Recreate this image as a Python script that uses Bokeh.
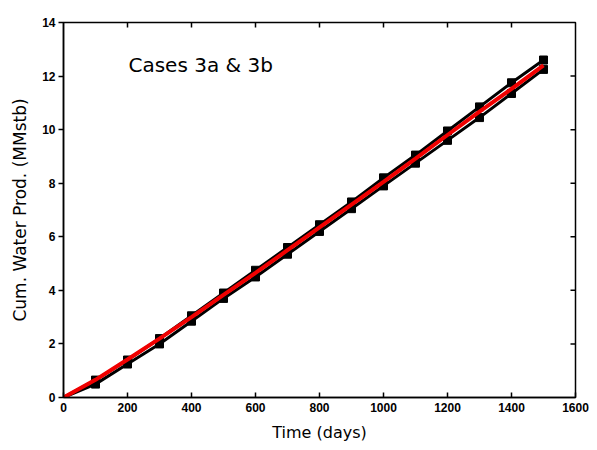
import math
from bokeh.plotting import figure
from bokeh.models import Range1d, FixedTicker, Label
from bokeh.embed import file_html
from bokeh.resources import INLINE

time_days = [0, 100, 200, 300, 400, 500, 600, 700, 800, 900, 1000, 1100, 1200, 1300, 1400, 1500]
case_upper = [0, 0.65, 1.40, 2.20, 3.05, 3.90, 4.75, 5.60, 6.45, 7.30, 8.20, 9.05, 9.95, 10.85, 11.75, 12.60]
case_lower = [0, 0.50, 1.25, 2.00, 2.85, 3.70, 4.50, 5.35, 6.20, 7.05, 7.90, 8.75, 9.60, 10.45, 11.35, 12.25]
case_red = [0, 0.66, 1.42, 2.20, 3.00, 3.83, 4.65, 5.50, 6.35, 7.20, 8.05, 8.92, 9.80, 10.67, 11.52, 12.40]

x_ticks = [0, 200, 400, 600, 800, 1000, 1200, 1400, 1600]
y_ticks = [0, 2, 4, 6, 8, 10, 12, 14]

p = figure(width=597, height=450, output_backend="svg", toolbar_location=None,
           x_range=Range1d(0, 1600), y_range=Range1d(0, 14),
           min_border_left=63, min_border_right=22, min_border_top=22, min_border_bottom=53)
p.grid.visible = False
p.outline_line_color = "black"
p.outline_line_width = 1.5
p.background_fill_color = "white"
p.border_fill_color = "white"

tick_font = "Liberation Sans"
label_font = "DejaVu Sans"
p.xaxis.ticker = FixedTicker(ticks=x_ticks)
p.yaxis.ticker = FixedTicker(ticks=y_ticks)
for ax in p.xaxis + p.yaxis:
    ax.minor_tick_line_color = None
    ax.axis_line_width = 1.5
    ax.axis_line_color = "black"
    ax.major_tick_line_width = 1.5
    ax.major_tick_line_color = "black"
    ax.major_label_text_font = tick_font
    ax.major_label_text_font_size = "12px"
    ax.major_label_text_font_style = "bold"
    ax.major_label_text_color = "black"
    ax.axis_label_text_font = label_font
    ax.axis_label_text_font_style = "normal"
    ax.axis_label_text_color = "black"

p.xaxis.axis_label = "Time (days)"
p.yaxis.axis_label = "Cum. Water Prod. (MMstb)"
p.xaxis.axis_label_text_font_size = "16px"
p.yaxis.axis_label_text_font_size = "17px"
p.xaxis.major_tick_in = 5
p.xaxis.major_tick_out = 0
p.yaxis.major_tick_in = 0
p.yaxis.major_tick_out = 5
p.xaxis.major_label_standoff = 5
p.yaxis.major_label_standoff = 3
p.xaxis.axis_label_standoff = 8
p.yaxis.axis_label_standoff = 9

# inward ticks on the top and right frame edges
p.ray(x=x_ticks[1:-1], y=[14] * (len(x_ticks) - 2), length=5, length_units="screen",
      angle=-math.pi / 2, line_color="black", line_width=1.5)
p.ray(x=[1600] * (len(y_ticks) - 2), y=y_ticks[1:-1], length=5, length_units="screen",
      angle=math.pi, line_color="black", line_width=1.5)

p.line(time_days, case_upper, line_color="black", line_width=3)
p.line(time_days, case_lower, line_color="black", line_width=3)
p.scatter(time_days[1:], case_upper[1:], marker="square", size=8, color="black")
p.scatter(time_days[1:], case_lower[1:], marker="square", size=8, color="black")
p.line(time_days, case_red, line_color="#f00000", line_width=4)

p.add_layout(Label(x=203, y=12.43, text="Cases 3a & 3b", text_font=label_font, text_font_size="20px",
                   text_color="black", text_baseline="middle"))

open("out.html", "w").write(file_html(p, INLINE))
